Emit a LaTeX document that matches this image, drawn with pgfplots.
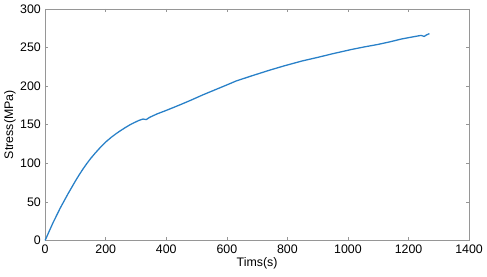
\documentclass[border=0pt]{standalone}
\usepackage{fontspec}
\setmainfont{Liberation Sans}
\usepackage{pgfplots}
\pgfplotsset{compat=1.18}
\definecolor{matblue}{RGB}{40,128,200}
\definecolor{axgray}{RGB}{150,150,150}
\begin{document}
\fontsize{12.5}{14}\selectfont
\begin{tikzpicture}
\begin{axis}[
  scale only axis,
  width=426.3bp, height=232.7bp,
  at={(0,0)}, anchor=south west,
  xmin=0, xmax=1400, ymin=0, ymax=300,
  xtick={0,200,...,1400}, ytick={0,50,...,300},
  tick align=inside, tick pos=both,
  major tick length=3bp,
  axis line style={axgray, line width=0.8pt},
  every tick/.style={axgray, line width=0.6pt},
  /pgf/number format/assume math mode=true,
  /pgf/number format/1000 sep={},
  tick label style={font=\fontsize{12.5}{14}\selectfont, text=black},
  label style={font=\fontsize{12.5}{14}\selectfont},
  xlabel={Tims(s)}, ylabel={Stress(MPa)},
  xlabel style={yshift=4bp},
  ylabel style={yshift=-4bp},
  clip=false,
]
\addplot[matblue, line width=1.3pt, line join=round] coordinates {
(0,0) (12.5,11) (25,22) (37.5,32) (50,42) (62.5,51) (75,60) (87.5,68.5)
(100,77) (112.5,85) (125,92.5) (137.5,99.5) (150,106) (165,113) (180,119.5)
(200,127.5) (218,133.5) (236,138.8) (250,142.5) (265,146.3) (280,149.8)
(295,152.8) (310,155.5) (323,157.3) (334,156.6) (345,159.5) (370,164)
(400,168.5) (444,175.5) (480,181.5) (520,188.5) (560,195) (600,201.5)
(630,206.5) (680,213) (740,220.5) (790,226.3) (848,232.5) (903,237.5)
(950,242) (1012,247.5) (1050,250.5) (1099,254) (1140,257.5) (1176,261)
(1210,263.5) (1241,265.7) (1252,264.4) (1260,266.5) (1269,268)
};
\end{axis}
\path[use as bounding box] (-44.7bp,-36.3bp) rectangle (442.3bp,241.7bp);
\end{tikzpicture}
\end{document}
